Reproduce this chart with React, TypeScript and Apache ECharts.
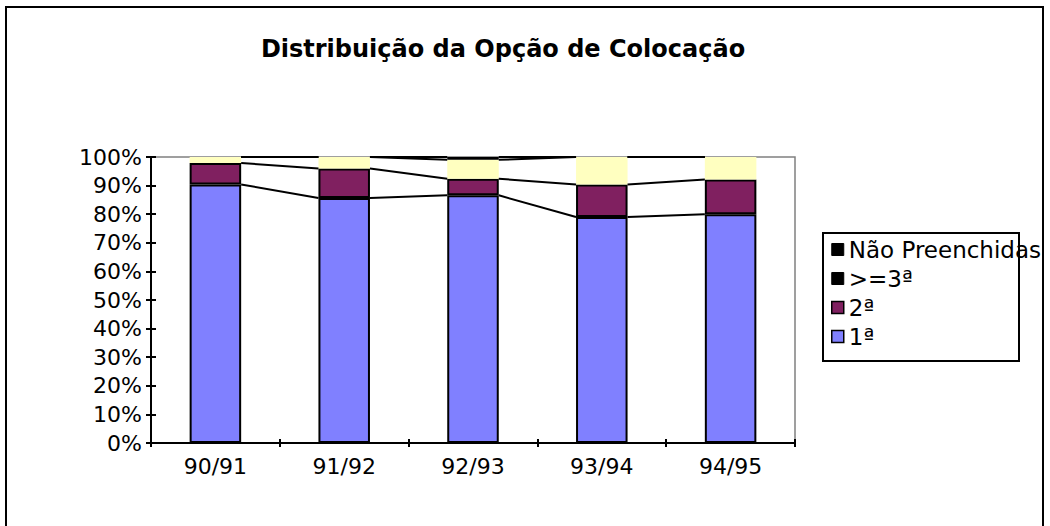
import React, { useEffect, useRef } from "react";
import * as echarts from "echarts";

const titleText = "Distribuição da Opção de Colocação";
const categories = ["90/91", "91/92", "92/93", "93/94", "94/95"];
const seriesNames = ["1ª", "2ª", ">=3ª", "Não Preenchidas"];
const first = [90.4, 85.7, 86.6, 79.0, 80.0];
const second = [7.5, 10.3, 5.8, 11.4, 12.1];
const thirdPlus = [2.1, 4.0, 6.6, 9.6, 7.9];
const notFilled = [0, 0, 1.0, 0, 0];

const FONT = '"DejaVu Sans", "Liberation Sans", Arial, sans-serif';

export default function App() {
  const ref = useRef<HTMLDivElement>(null);

  useEffect(() => {
    if (!ref.current) return;
    const chart = echarts.init(ref.current, undefined, { renderer: "svg" });

    const cum1 = first.map((v) => v);
    const cum2 = cum1.map((v, i) => v + second[i]);
    const cum3 = cum2.map((v, i) => v + thirdPlus[i]);
    const cum4 = cum3.map((v, i) => v + notFilled[i]);
    const levels = [cum1, cum2, cum3, cum4];

    const lineData = categories.slice(0, -1).map((_, i) => [i, 100]);

    const option: any = {
      animation: false,
      backgroundColor: "#ffffff",
      title: {
        text: titleText,
        left: 503,
        top: 37,
        textAlign: "center",
        padding: 0,
        textStyle: { fontFamily: FONT, fontWeight: "bold", fontSize: 24, color: "#000" },
      },
      graphic: [
        {
          type: "rect",
          shape: { x: 6, y: 7, width: 1037, height: 540 },
          style: { fill: "none", stroke: "#000", lineWidth: 2 },
          z: 0,
        },
        {
          type: "rect",
          shape: { x: 823, y: 233, width: 196, height: 128 },
          style: { fill: "none", stroke: "#000", lineWidth: 2 },
          z: 5,
        },
      ],
      legend: {
        orient: "vertical",
        left: 831,
        top: 238,
        padding: 0,
        itemGap: 6,
        itemWidth: 12,
        itemHeight: 12,
        icon: "rect",
        selectedMode: false,
        textStyle: { fontFamily: FONT, fontSize: 23, color: "#000", lineHeight: 23 },
        data: [
          { name: "Não Preenchidas", itemStyle: { color: "#000", borderColor: "#000", borderWidth: 1 } },
          { name: ">=3ª", itemStyle: { color: "#000", borderColor: "#000", borderWidth: 1 } },
          { name: "2ª", itemStyle: { color: "#802060", borderColor: "#000", borderWidth: 1.5 } },
          { name: "1ª", itemStyle: { color: "#8080FF", borderColor: "#000", borderWidth: 1.5 } },
        ],
      },
      grid: {
        left: 151,
        right: 255,
        top: 157,
        bottom: 83,
        show: true,
        borderColor: "#808080",
        borderWidth: 1.5,
        backgroundColor: "transparent",
      },
      xAxis: [
        {
          type: "category",
          data: categories,
          axisLine: { lineStyle: { color: "#000", width: 2 } },
          axisTick: { show: true, length: 4, lineStyle: { color: "#000", width: 2 } },
          axisLabel: { fontFamily: FONT, fontSize: 22, color: "#000", margin: 12 },
          splitLine: { show: false },
        },
        {
          type: "category",
          data: categories,
          position: "bottom",
          axisLine: { show: false },
          axisTick: { show: true, inside: true, length: 4, lineStyle: { color: "#000", width: 2 } },
          axisLabel: { show: false },
          splitLine: { show: false },
        },
      ],
      yAxis: [
        {
          type: "value",
          min: 0,
          max: 100,
          interval: 10,
          axisLine: { show: true, lineStyle: { color: "#000", width: 2 } },
          axisTick: { show: true, length: 5, lineStyle: { color: "#000", width: 2 } },
          axisLabel: { fontFamily: FONT, fontSize: 22, color: "#000", margin: 9, formatter: "{value}%" },
          splitLine: { show: false },
        },
        {
          type: "value",
          min: 0,
          max: 100,
          interval: 10,
          position: "left",
          axisLine: { show: false },
          axisTick: { show: true, inside: true, length: 5, lineStyle: { color: "#000", width: 2 } },
          axisLabel: { show: false },
          splitLine: { show: false },
        },
      ],
      series: [
        {
          name: seriesNames[0],
          type: "bar",
          stack: "total",
          barWidth: "40%",
          data: first,
          itemStyle: { color: "#8080FF", borderColor: "#000", borderWidth: 2 },
        },
        {
          name: seriesNames[1],
          type: "bar",
          stack: "total",
          barWidth: "40%",
          data: second,
          itemStyle: { color: "#802060", borderColor: "#000", borderWidth: 2 },
        },
        {
          name: seriesNames[2],
          type: "bar",
          stack: "total",
          barWidth: "40%",
          data: thirdPlus,
          itemStyle: { color: "#FFFFC0", borderWidth: 0 },
        },
        {
          name: seriesNames[3],
          type: "bar",
          stack: "total",
          barWidth: "40%",
          data: notFilled,
          itemStyle: { color: "#000", borderWidth: 0 },
        },
        {
          name: "seriesLines",
          type: "custom",
          data: lineData,
          encode: { x: 0, y: 1 },
          z: 5,
          renderItem: (params: any, api: any) => {
            const i = api.value(0);
            const band = api.size([1, 0])[0];
            const hw = band * 0.2;
            const children = levels.map((lv) => {
              const p1 = api.coord([i, lv[i]]);
              const p2 = api.coord([i + 1, lv[i + 1]]);
              return {
                type: "line",
                shape: { x1: p1[0] + hw, y1: p1[1], x2: p2[0] - hw, y2: p2[1] },
                style: { stroke: "#000", lineWidth: 2 },
              };
            });
            return { type: "group", children };
          },
        },
      ],
    };

    chart.setOption(option);
    return () => chart.dispose();
  }, []);

  return (
    <div
      ref={ref}
      style={{ position: "absolute", left: 0, top: 0, width: 1050, height: 526 }}
    />
  );
}
